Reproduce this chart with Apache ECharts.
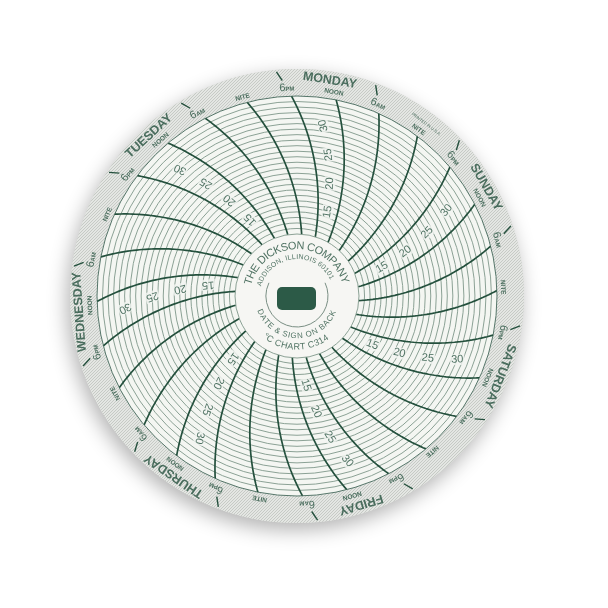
<!DOCTYPE html>
<html><head><meta charset="utf-8">
<script src="https://cdn.jsdelivr.net/npm/echarts@6/dist/echarts.min.js"></script>
<style>html,body{margin:0;padding:0;background:#ffffff}#c{width:608px;height:608px}</style>
</head><body><div id="c"></div>
<script>
// ---------------- data ----------------
const dayNames = ['MONDAY', 'TUESDAY', 'WEDNESDAY', 'THURSDAY', 'FRIDAY', 'SATURDAY', 'SUNDAY'];
const markHours = [0, 6, 12, 18];                 // hours of the day with a time line
const markNames = ['NITE', '6AM', 'NOON', '6PM'];
const tempMin = 10, tempMax = 35, tempStep = 1;   // °C rings
const tempLabels = [15, 20, 25, 30];
const tempLabelHour = 15;                         // labels sit between NOON and 6PM
const hubTop = ['THE DICKSON COMPANY', 'ADDISON, ILLINOIS 60101'];
const hubBottom = ['DATE & SIGN ON BACK', '°C CHART C314'];
const printNote = 'PRINTED IN U.S.A.';

// ---------------- layout / style ----------------
const CX = 297, CY = 296;
const R_IN = 62, R_OUT = 200, R_DISC = 227;
const PEN = 222;            // pen arm radius of the recorder (px), shapes the curved time lines
const START_BEARING = 37;   // bearing of Monday 00:00 at the outer ring (deg, clockwise from top)
const WEEK = 168;
const GREEN = '#24503d';
const RING = '#7f978a';
const FONT = '"Liberation Sans", Arial, sans-serif';

function rOf(T) { return R_IN + (T - tempMin) * (R_OUT - R_IN) / (tempMax - tempMin); }
function asinD(x) { return Math.asin(x) * 180 / Math.PI; }
function shiftH(r) { return (asinD(r / (2 * PEN)) - asinD(R_OUT / (2 * PEN))) * WEEK / 360; }
function bearingOf(t) { return START_BEARING - t * 360 / WEEK; }
function norm(a) { return ((a % 360) + 540) % 360 - 180; }

// dotted paper texture for the rim
const pat = document.createElement('canvas');
pat.width = 3; pat.height = 3;
(function () {
  const g = pat.getContext('2d');
  g.fillStyle = '#e4e6e3'; g.fillRect(0, 0, 3, 3);
  g.fillStyle = '#c6cac5'; g.fillRect(0, 0, 1, 1); g.fillRect(2, 1, 1, 1); g.fillRect(1, 2, 1, 1);
})();

// ---------------- series ----------------
const series = [];

// curved time lines
dayNames.forEach((d, di) => markHours.forEach(h => {
  const t = di * 24 + h;
  const pts = [];
  for (let T = tempMin; T <= tempMax + 1e-9; T += 0.25) pts.push([T, t + shiftH(rOf(T))]);
  series.push({
    type: 'line', coordinateSystem: 'polar', polarIndex: 0, data: pts,
    symbol: 'none', silent: true, animation: false, z: 3,
    lineStyle: { color: GREEN, width: 1.7 }
  });
}));

// little ticks on the rim at 6AM / 6PM
dayNames.forEach((d, di) => [6, 18].forEach(h => {
  const t = di * 24 + h;
  series.push({
    type: 'line', coordinateSystem: 'polar', polarIndex: 1, clip: false,
    data: [[216, t + shiftH(216)], [225, t + shiftH(225)]],
    symbol: 'none', silent: true, animation: false, z: 3,
    lineStyle: { color: GREEN, width: 1.4 }
  });
}));

// rim labels
const rimItems = [];
function addRim(r, t, text, extra) {
  const tt = t + shiftH(r);
  const b = bearingOf(tt);
  rimItems.push({ name: text, value: [r, tt], label: Object.assign({ rotate: norm(-b) }, extra) });
}
dayNames.forEach((name, di) => {
  const t0 = di * 24;
  markHours.forEach((h, k) => {
    const m = markNames[k];
    if (m === 'NITE') addRim(206, t0 + h, 'NITE', { fontSize: 6.5, fontWeight: 'bold' });
    else if (m === 'NOON') {
      addRim(207, t0 + h, 'NOON', { fontSize: 6.5, fontWeight: 'bold' });
      addRim(218, t0 + h, name, { fontSize: 12.5, fontWeight: 'bold' });
    } else addRim(208.5, t0 + h, '{a|6}{b|' + m.slice(1) + '}', {});
  });
});
addRim(215, -1.0, printNote, { fontSize: 4 });
series.push({
  type: 'scatter', coordinateSystem: 'polar', polarIndex: 1, clip: false,
  data: rimItems, symbolSize: 1, itemStyle: { color: 'transparent' },
  silent: true, animation: false, z: 5,
  label: {
    show: true, position: 'inside', color: GREEN, fontFamily: FONT, fontSize: 10,
    formatter: p => p.name,
    rich: {
      a: { fontSize: 11, color: GREEN, fontFamily: FONT, verticalAlign: 'bottom' },
      b: { fontSize: 6, color: GREEN, fontFamily: FONT, fontWeight: 'bold', verticalAlign: 'bottom', padding: [0, 0, 1, 0] }
    }
  }
});

// temperature labels along each day
const tempItems = [];
dayNames.forEach((d, di) => tempLabels.forEach(T => {
  const r = rOf(T);
  const tt = di * 24 + tempLabelHour + shiftH(r);
  const b = bearingOf(tt);
  const alpha = asinD(r / (2 * PEN));
  tempItems.push({ name: String(T), value: [T, tt], label: { rotate: norm(90 - (b - alpha)) } });
}));
series.push({
  type: 'scatter', coordinateSystem: 'polar', polarIndex: 0,
  data: tempItems, symbolSize: 1, itemStyle: { color: 'transparent' },
  silent: true, animation: false, z: 6,
  label: {
    show: true, position: 'inside', color: GREEN, fontFamily: FONT, fontSize: 11,
    formatter: p => p.name, backgroundColor: '#f3f5f1', padding: [0, 1]
  }
});

// hub text, one glyph per point along the arcs
const ctx = document.createElement('canvas').getContext('2d');
const hubSpecs = [
  { text: hubTop[0], r: 50, center: 359, span: 152, size: 11, top: true },
  { text: hubTop[1], r: 39, center: 354.5, span: 139, size: 7, top: true },
  { text: hubBottom[0], r: 40, center: 181, span: 138, size: 8, top: false },
  { text: hubBottom[1], r: 51, center: 181.5, span: 77, size: 9, top: false }
];
const hubItems = [];
hubSpecs.forEach(s => {
  ctx.font = s.size + 'px ' + FONT;
  const chars = s.text.split('');
  const w = chars.map(c => ctx.measureText(c).width);
  const W = w.reduce((a, b) => a + b, 0);
  const arcLen = s.span * Math.PI / 180 * s.r;
  const gap = (arcLen - W) / (chars.length - 1);
  let cum = 0;
  chars.forEach((c, i) => {
    const mid = cum + w[i] / 2 + i * gap;
    cum += w[i];
    const dDeg = mid / s.r * 180 / Math.PI;
    const b = s.top ? s.center - s.span / 2 + dDeg : s.center + s.span / 2 - dDeg;
    if (c === ' ') return;
    const bb = ((b % 360) + 360) % 360;
    hubItems.push({ name: c, value: [s.r, bb], label: { fontSize: s.size, rotate: norm(s.top ? -bb : 180 - bb) } });
  });
});
series.push({
  type: 'scatter', coordinateSystem: 'polar', polarIndex: 2, clip: false,
  data: hubItems, symbolSize: 1, itemStyle: { color: 'transparent' },
  silent: true, animation: false, z: 6,
  label: { show: true, position: 'inside', color: GREEN, fontFamily: FONT, formatter: p => p.name }
});

const ringColors = [];
for (let T = tempMin; T <= tempMax; T += tempStep) ringColors.push(T === tempMax ? '#44685a' : RING);

const option = {
  animation: false,
  backgroundColor: '#ffffff',
  polar: [
    { center: [CX, CY], radius: [R_IN, R_OUT] },
    { center: [CX, CY], radius: [0, 250] },
    { center: [CX, CY], radius: [0, 250] }
  ],
  angleAxis: [
    { polarIndex: 0, type: 'value', min: 0, max: WEEK, startAngle: 90 - START_BEARING, clockwise: false,
      axisLine: { show: false }, axisTick: { show: false }, axisLabel: { show: false }, splitLine: { show: false } },
    { polarIndex: 1, type: 'value', min: 0, max: WEEK, startAngle: 90 - START_BEARING, clockwise: false, show: false },
    { polarIndex: 2, type: 'value', min: 0, max: 360, startAngle: 90, clockwise: true, show: false }
  ],
  radiusAxis: [
    { polarIndex: 0, type: 'value', min: tempMin, max: tempMax, interval: tempStep,
      axisLine: { show: false }, axisTick: { show: false }, axisLabel: { show: false },
      splitLine: { show: true, lineStyle: { color: ringColors, width: 0.9 } } },
    { polarIndex: 1, type: 'value', min: 0, max: 250, show: false },
    { polarIndex: 2, type: 'value', min: 0, max: 250, show: false }
  ],
  graphic: [
    { type: 'circle', z: -11, silent: true, shape: { cx: CX, cy: CY, r: R_DISC },
      style: { fill: '#dadcd9', shadowBlur: 20, shadowColor: 'rgba(0,0,0,0.30)', shadowOffsetY: 7, shadowOffsetX: -3 } },
    { type: 'circle', z: -10, silent: true, shape: { cx: CX, cy: CY, r: R_DISC },
      style: { fill: { image: pat, repeat: 'repeat' } } },
    { type: 'circle', z: -9, silent: true, shape: { cx: CX, cy: CY, r: R_OUT }, style: { fill: '#f4f6f2' } },
    { type: 'circle', z: -8, silent: true, shape: { cx: CX, cy: CY, r: R_IN }, style: { fill: '#f6f6f3' } },
    { type: 'rect', z: 10, silent: true, shape: { x: 277, y: 287, width: 39, height: 23, r: 5 }, style: { fill: '#2c5a47' } },
    { type: 'arc', z: 10, silent: true, shape: { cx: CX, cy: CY, r: 31, startAngle: -0.44, endAngle: 3.58, clockwise: true },
      style: { stroke: '#7a8f84', lineWidth: 1, fill: 'none' } }
  ],
  series: series
};
const chart = echarts.init(document.getElementById('c'), null, { renderer: 'canvas' });
chart.setOption(option);
</script></body></html>
